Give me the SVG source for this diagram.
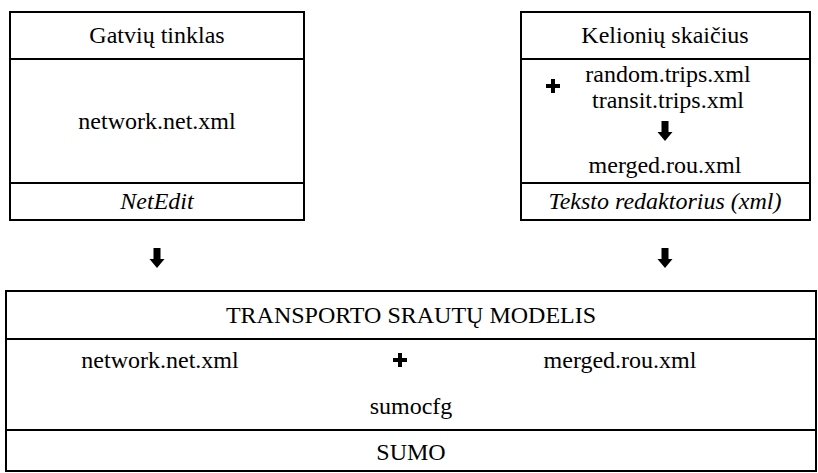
<svg xmlns="http://www.w3.org/2000/svg" width="818" height="473" viewBox="0 0 818 473">
<defs>
<path id="arr" d="M-3.5,-10 H3.5 V1 H7.5 L0,10 L-7.5,1 H-3.5 Z" fill="#000"/>
<path id="plus" d="M-2,-7 H2 V-2 H7 V2 H2 V7 H-2 V2 H-7 V-2 H-2 Z" fill="#000"/>
</defs>
<g id="gatviu-tinklas">
<g fill="none" stroke="#000" stroke-width="2">
<rect x="10" y="12" width="294" height="208"/>
<line x1="10" y1="59" x2="304" y2="59"/>
<line x1="10" y1="183" x2="304" y2="183"/>
</g>
<text x="157" y="43" font-family="Liberation Serif" font-size="24" text-anchor="middle">Gatvių tinklas</text>
<text x="157" y="129" font-family="Liberation Serif" font-size="24" text-anchor="middle">network.net.xml</text>
<text x="157" y="209" font-family="Liberation Serif" font-size="24" text-anchor="middle" font-style="italic">NetEdit</text>
</g>
<g id="kelioniu-skaicius">
<g fill="none" stroke="#000" stroke-width="2">
<rect x="521" y="12" width="289" height="208"/>
<line x1="521" y1="59" x2="810" y2="59"/>
<line x1="521" y1="183" x2="810" y2="183"/>
</g>
<text x="665" y="43" font-family="Liberation Serif" font-size="24" text-anchor="middle">Kelionių skaičius</text>
<use href="#plus" x="553" y="86"/>
<text x="668" y="82" font-family="Liberation Serif" font-size="24" text-anchor="middle">random.trips.xml</text>
<text x="668" y="108" font-family="Liberation Serif" font-size="24" text-anchor="middle">transit.trips.xml</text>
<use href="#arr" x="665" y="131"/>
<text x="665" y="173" font-family="Liberation Serif" font-size="24" text-anchor="middle">merged.rou.xml</text>
<text x="665" y="209" font-family="Liberation Serif" font-size="24" text-anchor="middle" font-style="italic">Teksto redaktorius (xml)</text>
</g>
<g id="connectors">
<use href="#arr" x="157" y="258"/>
<use href="#arr" x="665" y="258"/>
</g>
<g id="transporto-modelis">
<g fill="none" stroke="#000" stroke-width="2">
<rect x="6" y="291" width="810" height="180"/>
<line x1="6" y1="339" x2="816" y2="339"/>
<line x1="6" y1="430" x2="816" y2="430"/>
</g>
<text x="411" y="323" font-family="Liberation Serif" font-size="24" text-anchor="middle">TRANSPORTO SRAUTŲ MODELIS</text>
<text x="160" y="368" font-family="Liberation Serif" font-size="24" text-anchor="middle">network.net.xml</text>
<use href="#plus" x="400" y="360"/>
<text x="620" y="368" font-family="Liberation Serif" font-size="24" text-anchor="middle">merged.rou.xml</text>
<text x="411" y="414" font-family="Liberation Serif" font-size="24" text-anchor="middle">sumocfg</text>
<text x="411" y="460" font-family="Liberation Serif" font-size="24" text-anchor="middle">SUMO</text>
</g>
</svg>
